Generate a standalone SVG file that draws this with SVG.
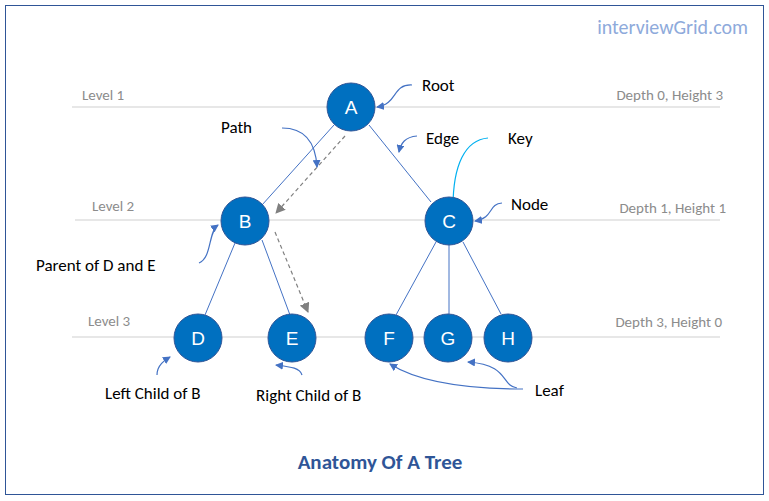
<svg xmlns="http://www.w3.org/2000/svg" width="769" height="501" viewBox="0 0 769 501">
<style>
.t{font-family:"Calibri","Carlito","Liberation Sans",sans-serif;}
.lvl{font-size:15px;fill:#8c8c8c;}
.lbl{font-size:17px;fill:#000;}
.nd circle{fill:#0070c0;stroke:#2f5597;stroke-width:1;}
.nd text{font-size:19px;fill:#fff;text-anchor:middle;font-family:"Liberation Sans",sans-serif;}
.ed{stroke:#4472c4;stroke-width:1;fill:none;}
.ar{stroke:#4472c4;stroke-width:1.2;fill:none;marker-end:url(#ab);}
.da{stroke:#808080;stroke-width:1.2;stroke-dasharray:4,3;fill:none;marker-end:url(#ag);}
.gl{stroke:#d0d0d0;stroke-width:1.2;}
</style>
<defs>
<marker id="ab" markerWidth="8" markerHeight="8" refX="7" refY="4" orient="auto" markerUnits="userSpaceOnUse"><path d="M0,0L8,4L0,8z" fill="#4472c4"/></marker>
<marker id="ag" markerWidth="10" markerHeight="10" refX="9" refY="5" orient="auto" markerUnits="userSpaceOnUse"><path d="M0,0L10,5L0,10z" fill="#808080"/></marker>
<marker id="ac" markerWidth="10" markerHeight="10" refX="9" refY="5" orient="auto" markerUnits="userSpaceOnUse"><path d="M0,0L10,5L0,10z" fill="#00b0f0"/></marker>
</defs>
<rect x="0" y="0" width="769" height="501" fill="#fff"/>
<rect x="5.5" y="5.5" width="758" height="489" fill="none" stroke="#2f5597" stroke-width="1"/>
<text class="t" x="748" y="34" font-size="20" fill="#8eaadb" text-anchor="end">interviewGrid.com</text>
<g id="levels">
<line class="gl" x1="72" y1="107" x2="720" y2="107"/>
<line class="gl" x1="75" y1="220" x2="720" y2="220"/>
<line class="gl" x1="72" y1="337" x2="720" y2="337"/>
<text class="t lvl" x="82" y="100">Level 1</text>
<text class="t lvl" x="92" y="211">Level 2</text>
<text class="t lvl" x="88" y="326">Level 3</text>
<text class="t lvl" x="723" y="100" text-anchor="end">Depth 0, Height 3</text>
<text class="t lvl" x="726" y="213" text-anchor="end">Depth 1, Height 1</text>
<text class="t lvl" x="722" y="327" text-anchor="end">Depth 3, Height 0</text>
</g>
<g id="connectors">
<line class="ed" x1="334" y1="125" x2="262" y2="205"/>
<line class="ed" x1="369" y1="125" x2="431" y2="202"/>
<line class="ed" x1="235" y1="243" x2="205" y2="315"/>
<line class="ed" x1="262" y1="240" x2="290" y2="315"/>
<line class="ed" x1="436" y1="242" x2="396" y2="315"/>
<line class="ed" x1="449" y1="245" x2="449" y2="314"/>
<line class="ed" x1="463" y1="242" x2="501" y2="314"/>
<path class="da" d="M345,136L276,213"/>
<path class="da" d="M275,232L308,312"/>
<path class="ar" d="M412,85C392,84 398,104 377,107"/>
<path class="ar" d="M282,128C310,128 316,150 317,167"/>
<path class="ar" d="M417,136C405,137 401,143 399,152"/>
<path d="M488,138C465,140 453,165 453,207" stroke="#00b0f0" stroke-width="1.2" fill="none" marker-end="url(#ac)"/>
<path class="ar" d="M502,203C488,204 494,218 475,221"/>
<path class="ar" d="M199,263C212,258 208,232 218,225"/>
<path class="ar" d="M157,375C157,365 165,360 170,357"/>
<path class="ar" d="M302,375C300,368 292,367 276,365"/>
<path class="ar" d="M523,389C470,389 420,383 390,364"/>
<path class="ar" d="M517,388C500,385 510,365 468,362"/>
</g>
<g id="labels" class="t lbl">
<text x="422" y="91">Root</text>
<text x="221" y="133">Path</text>
<text x="426" y="144">Edge</text>
<text x="508" y="144">Key</text>
<text x="511" y="210">Node</text>
<text x="36" y="271">Parent of D and E</text>
<text x="105" y="399">Left Child of B</text>
<text x="256" y="401">Right Child of B</text>
<text x="535" y="396">Leaf</text>
</g>
<g id="A" class="nd"><circle cx="351" cy="107" r="24"/><text x="351" y="114">A</text></g>
<g id="B" class="nd"><circle cx="245" cy="221" r="24"/><text x="245" y="228">B</text></g>
<g id="C" class="nd"><circle cx="449" cy="221" r="24"/><text x="449" y="228">C</text></g>
<g id="D" class="nd"><circle cx="198" cy="338" r="24"/><text x="198" y="345">D</text></g>
<g id="E" class="nd"><circle cx="292" cy="338" r="24"/><text x="292" y="345">E</text></g>
<g id="F" class="nd"><circle cx="389" cy="338" r="24"/><text x="389" y="345">F</text></g>
<g id="G" class="nd"><circle cx="448" cy="338" r="24"/><text x="448" y="345">G</text></g>
<g id="H" class="nd"><circle cx="508" cy="338" r="24"/><text x="508" y="345">H</text></g>
<text class="t" x="380" y="469" font-size="21" font-weight="bold" fill="#2f5597" text-anchor="middle">Anatomy Of A Tree</text>
</svg>
